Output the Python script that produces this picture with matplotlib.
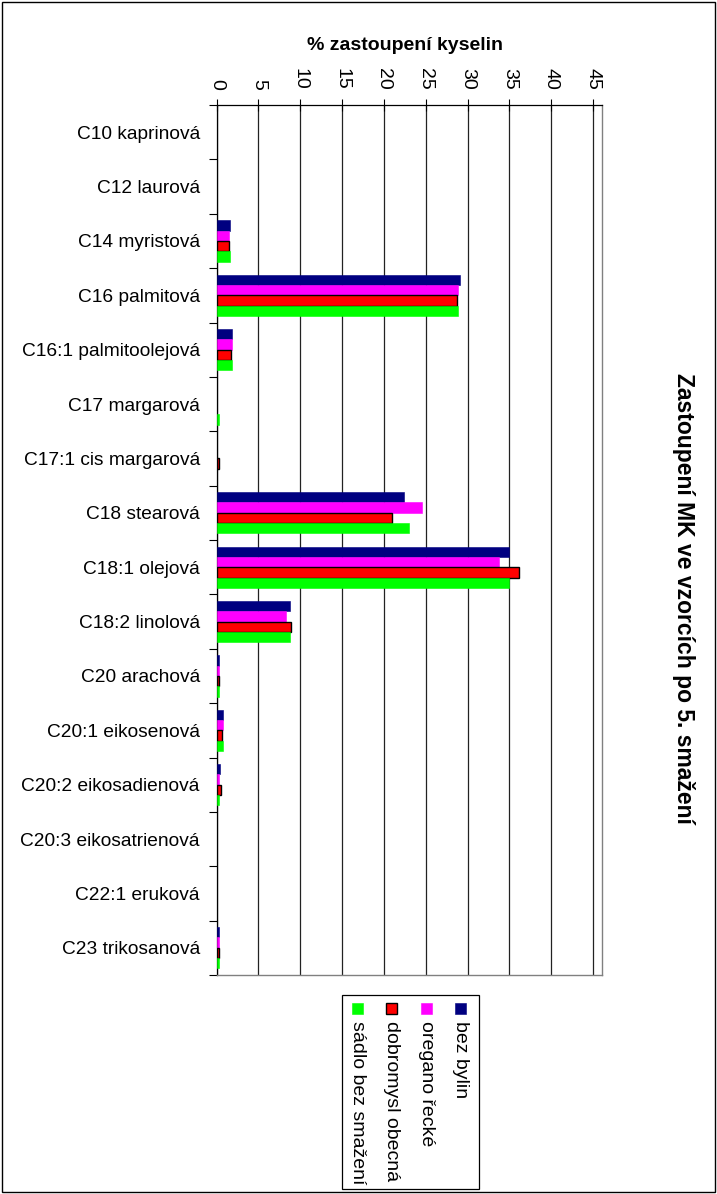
import matplotlib
matplotlib.use("Agg")
import matplotlib.pyplot as plt
from matplotlib.patches import Rectangle
import numpy as np

plt.rcParams['font.family'] = ['Liberation Sans', 'DejaVu Sans']

categories = ["C10 kaprinová", "C12 laurová", "C14 myristová", "C16 palmitová",
              "C16:1 palmitoolejová", "C17 margarová", "C17:1 cis margarová",
              "C18 stearová", "C18:1 olejová", "C18:2 linolová", "C20 arachová",
              "C20:1 eikosenová", "C20:2 eikosadienová", "C20:3 eikosatrienová",
              "C22:1 eruková", "C23 trikosanová"]

series_names = ["bez bylin", "oregano řecké", "dobromysl obecná", "sádlo bez smažení"]

bez_bylin = [0, 0, 1.6, 29.05, 1.85, 0, 0, 22.35, 34.95, 8.75, 0.3, 0.78, 0.4, 0, 0, 0.3]
oregano   = [0, 0, 1.45, 28.85, 1.85, 0, 0, 24.5, 33.8, 8.3, 0.3, 0.78, 0.35, 0, 0, 0.3]
dobromysl = [0, 0, 1.55, 28.7, 1.75, 0, 0.25, 21.0, 36.15, 8.9, 0.3, 0.7, 0.5, 0, 0, 0.3]
sadlo     = [0, 0, 1.6, 28.85, 1.85, 0.3, 0, 23.0, 34.95, 8.75, 0.3, 0.78, 0.3, 0, 0, 0.3]

series = [bez_bylin, oregano, dobromysl, sadlo]
colors = ["#000080", "#FF00FF", "#FF0000", "#00FF00"]
edges = ["#000080", "#FF00FF", "#000000", "#00FF00"]
xticks = [0, 5, 10, 15, 20, 25, 30, 35, 40, 45]

W, H = 717, 1194
fig = plt.figure(figsize=(W/100, H/100), dpi=100)
ax = fig.add_axes([216.5/W, 1-975/H, (601.5-216.5)/W, (975-105)/H])

n = len(categories)
y = np.arange(n)
bh = 0.19
for k, (vals, c, ec) in enumerate(zip(series, colors, edges)):
    off = (k - 1.5) * bh
    vals = np.asarray(vals, dtype=float)
    m = vals > 0
    ax.barh(y[m] + off, vals[m], height=bh, color=c, edgecolor=ec,
            linewidth=1.0 if ec == "#000000" else 0.4, zorder=3)

ax.set_xlim(0, 46)
ax.set_ylim(n - 0.5, -0.5)
ax.xaxis.tick_top()
ax.set_xticks(xticks)
ax.set_xticklabels([str(t) for t in xticks], rotation=-90, fontsize=14)
ax.tick_params(axis='x', direction='inout', length=8, width=0.8, pad=7)
ax.xaxis.grid(True, color='#222222', linewidth=0.9, zorder=0)

ax.set_yticks(y)
ax.set_yticklabels(categories, fontsize=13.8)
ax.tick_params(axis='y', which='major', length=0, pad=12)
ax.set_yticks(np.arange(n + 1) - 0.5, minor=True)
ax.tick_params(axis='y', which='minor', direction='out', length=6, width=0.8)

for s in ['left', 'top']:
    ax.spines[s].set_color('black')
    ax.spines[s].set_linewidth(0.9)
for s in ['right', 'bottom']:
    ax.spines[s].set_color('#808080')
    ax.spines[s].set_linewidth(1.0)

fig.text(405/W, 1-45/H, "% zastoupení kyselin", ha='center', va='center',
         fontsize=14, fontweight='bold')
fig.text(683/W, 1-598/H, "Zastoupení MK ve vzorcích po 5. smažení", rotation=-90,
         ha='center', va='center', fontsize=16.5, fontweight='bold')

# legend
fig.patches.append(Rectangle((341.5/W, 1-1189/H), (479-341.5)/W, (1189-995)/H,
                             transform=fig.transFigure, facecolor='white',
                             edgecolor='black', linewidth=0.9))
xs = [460.7, 426, 391.7, 357.7]
for name, c, ec, xc in zip(series_names, colors, edges, xs):
    sz = 11
    fig.patches.append(Rectangle(((xc - sz/2)/W, 1-(1008 + sz/2)/H), sz/W, sz/H,
                                 transform=fig.transFigure, facecolor=c,
                                 edgecolor=ec, linewidth=1.0 if ec == "#000000" else 0.4))
    fig.text(xc/W, 1-1021/H, name, rotation=-90, ha='center', va='top', fontsize=14)

fig.patches.append(Rectangle((2/W, 2/H), (W-4)/W, (H-4)/H, transform=fig.transFigure,
                             facecolor='none', edgecolor='black', linewidth=1.0))

fig.savefig("out.png", dpi=100)
